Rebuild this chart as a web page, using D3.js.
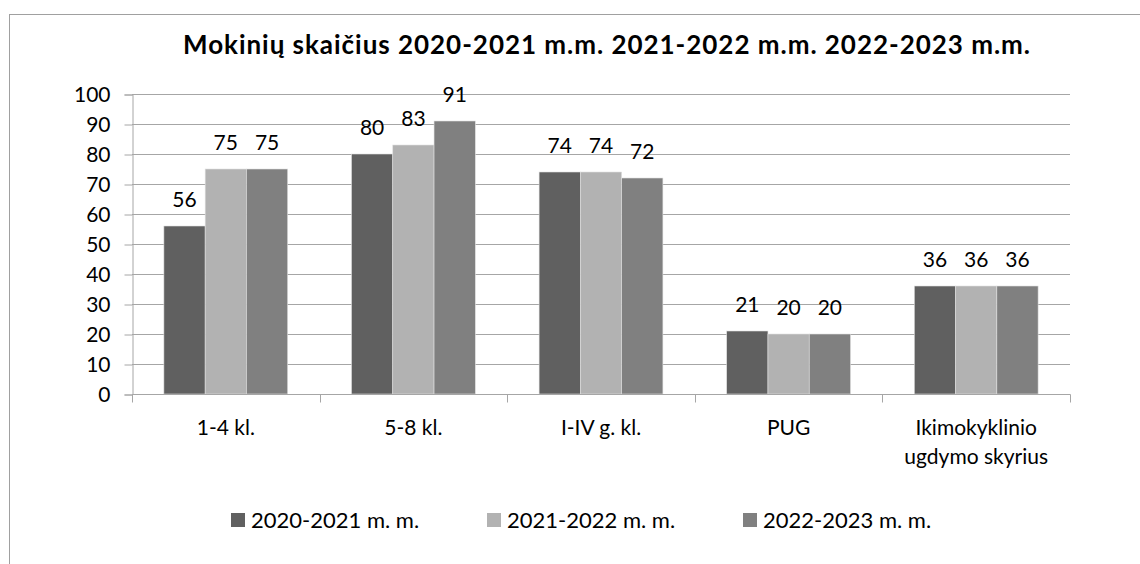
<!DOCTYPE html>
<html>
<head>
<meta charset="utf-8">
<script src="https://cdn.jsdelivr.net/npm/d3@7"></script>
<style>
  body { margin: 0; background: #fff; }
  svg { display: block; font-family: Lato, "Open Sans", sans-serif; }
</style>
</head>
<body>
<svg id="s"></svg>
<script>
var categories = ['1-4 kl.', '5-8 kl.', 'I-IV g. kl.', 'PUG', 'Ikimokyklinio ugdymo skyrius'];
var seriesNames = ['2020-2021 m. m.', '2021-2022 m. m.', '2022-2023 m. m.'];
var s2021 = [56, 80, 74, 21, 36];
var s2122 = [75, 83, 74, 20, 36];
var s2223 = [75, 91, 72, 20, 36];
var yTicks = [0, 10, 20, 30, 40, 50, 60, 70, 80, 90, 100];
var colors = ['#606060', '#b2b2b2', '#808080'];

var series = [s2021, s2122, s2223];
var W = 1140, H = 564;
var plotL = 132, plotR = 1070, plotT = 94, plotB = 394;

var svg = d3.select('#s').attr('width', W).attr('height', H);

// chart frame
svg.append('rect')
  .attr('x', 9.5).attr('y', 14.5)
  .attr('width', 1200).attr('height', 600)
  .attr('fill', 'none').attr('stroke', '#a0a0a0').attr('stroke-width', 1);

// title
svg.append('text')
  .attr('x', 183).attr('y', 54)
  .attr('font-size', 26).attr('font-weight', 'bold').attr('fill', '#000')
  .attr('textLength', 847).attr('lengthAdjust', 'spacing')
  .text('Mokinių skaičius 2020-2021 m.m. 2021-2022 m.m. 2022-2023 m.m.');

var x0 = d3.scaleBand().domain(categories).range([plotL, plotR])
  .paddingInner(0.34).paddingOuter(0.17);
var x1 = d3.scaleBand().domain([0, 1, 2]).range([0, x0.bandwidth()]);
var y = d3.scaleLinear().domain([0, 100]).range([plotB, plotT]);

// gridlines
svg.append('g').selectAll('line')
  .data(yTicks.filter(function(d){ return d > 0; }))
  .enter().append('line')
  .attr('x1', plotL).attr('x2', plotR)
  .attr('y1', function(d){ return Math.round(y(d)) + 0.5; })
  .attr('y2', function(d){ return Math.round(y(d)) + 0.5; })
  .attr('stroke', '#a6a6a6');

// y axis
var yAxis = svg.append('g')
  .attr('transform', 'translate(' + (plotL + 0.5) + ',0.5)')
  .call(d3.axisLeft(y).tickValues(yTicks).tickSize(8).tickPadding(14));
yAxis.select('.domain').attr('stroke', '#a6a6a6');
yAxis.selectAll('.tick line').attr('stroke', '#a6a6a6');
yAxis.selectAll('.tick text')
  .attr('font-size', 21).attr('fill', '#000')
  .attr('font-family', 'Lato, "Open Sans", sans-serif');

// bars
var groups = svg.append('g').selectAll('g')
  .data(categories)
  .enter().append('g')
  .attr('transform', function(d){ return 'translate(' + x0(d) + ',0)'; });

function rows(d, i){
  return series.map(function(sv, k){ return {k: k, v: sv[i]}; });
}

groups.selectAll('rect')
  .data(rows)
  .enter().append('rect')
  .attr('x', function(d){ return x1(d.k); })
  .attr('y', function(d){ return y(d.v); })
  .attr('width', x1.bandwidth())
  .attr('height', function(d){ return y(0) - y(d.v); })
  .attr('fill', function(d){ return colors[d.k]; })
  .attr('stroke', '#e0e0e0').attr('stroke-width', 0.6);

groups.selectAll('text')
  .data(rows)
  .enter().append('text')
  .attr('x', function(d){ return x1(d.k) + x1.bandwidth() / 2; })
  .attr('y', function(d){ return y(d.v) - 19; })
  .attr('text-anchor', 'middle')
  .attr('font-size', 21).attr('fill', '#000')
  .text(function(d){ return d.v; });

// x axis
var xAxis = svg.append('g')
  .attr('transform', 'translate(0,' + (plotB + 0.5) + ')');
xAxis.append('line')
  .attr('x1', plotL).attr('x2', plotR + 0.5)
  .attr('stroke', '#a6a6a6');
xAxis.selectAll('line.tk')
  .data(d3.range(categories.length + 1))
  .enter().append('line').attr('class', 'tk')
  .attr('x1', function(i){ return Math.round(plotL + i * x0.step()) + 0.5; })
  .attr('x2', function(i){ return Math.round(plotL + i * x0.step()) + 0.5; })
  .attr('y1', 0).attr('y2', 8)
  .attr('stroke', '#a6a6a6');

var catLines = {'Ikimokyklinio ugdymo skyrius': ['Ikimokyklinio', 'ugdymo skyrius']};
xAxis.selectAll('text.cat')
  .data(categories)
  .enter().append('text').attr('class', 'cat')
  .attr('y', 40)
  .attr('text-anchor', 'middle')
  .attr('font-size', 21).attr('fill', '#000')
  .each(function(d){
    var lines = catLines[d] || [d];
    var t = d3.select(this);
    lines.forEach(function(l, i){
      t.append('tspan')
        .attr('x', x0(d) + x0.bandwidth() / 2)
        .attr('dy', i === 0 ? 0 : 29)
        .text(l);
    });
  });

// legend
var items = svg.append('g').selectAll('g')
  .data(seriesNames)
  .enter().append('g')
  .attr('transform', function(d, i){ return 'translate(' + (231 + i * 256) + ',527)'; });
items.append('rect')
  .attr('width', 14).attr('height', 14)
  .attr('y', -14)
  .attr('fill', function(d, i){ return colors[i]; });
items.append('text')
  .attr('x', 20).attr('y', 1)
  .attr('font-size', 22).attr('fill', '#000')
  .text(function(d){ return d; });
</script>
</body>
</html>
